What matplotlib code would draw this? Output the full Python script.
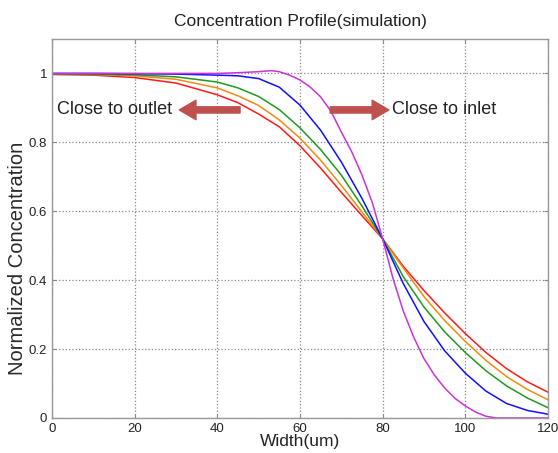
import numpy as np
import matplotlib
matplotlib.use("Agg")
import matplotlib.pyplot as plt

plt.rcParams['font.family'] = ['Liberation Sans', 'DejaVu Sans']

# Width positions (um) where the curves were read
width = [0, 10, 20, 30, 40, 45, 50, 55, 60, 65, 70, 75, 80,
         85, 90, 95, 100, 105, 110, 115, 120]

# Profiles, from "close to outlet" (red) to "close to inlet" (magenta)
red = [0.997, 0.995, 0.988, 0.972, 0.938, 0.915, 0.882, 0.845, 0.79, 0.725, 0.655, 0.587, 0.52,
       0.44, 0.37, 0.305, 0.245, 0.19, 0.143, 0.105, 0.075]
orange = [0.998, 0.997, 0.993, 0.983, 0.958, 0.935, 0.907, 0.865, 0.812, 0.748, 0.675, 0.598, 0.52,
          0.435, 0.352, 0.283, 0.222, 0.167, 0.12, 0.083, 0.053]
green = [0.999, 0.998, 0.996, 0.99, 0.975, 0.958, 0.933, 0.895, 0.842, 0.779, 0.705, 0.615, 0.52,
         0.41, 0.322, 0.25, 0.19, 0.137, 0.093, 0.058, 0.03]
blue = [1.0, 1.0, 0.999, 0.998, 0.995, 0.993, 0.985, 0.96, 0.908, 0.835, 0.743, 0.637, 0.52,
        0.39, 0.28, 0.195, 0.13, 0.078, 0.042, 0.022, 0.011]

# the steepest profile, read more densely
width_m = [0, 10, 20, 30, 40, 45, 50, 53, 55, 57.5, 60, 62.5, 65, 67.5, 70, 72.5, 75, 77.5, 80,
           82.5, 85, 87.5, 90, 92.5, 95, 97.5, 100, 102.5, 105, 107.5, 110, 120]
magenta = [1.0, 1.0, 1.0, 1.0, 1.0, 1.002, 1.005, 1.008, 1.005, 0.995, 0.981, 0.96, 0.932, 0.89,
           0.83, 0.773, 0.705, 0.625, 0.52, 0.405, 0.31, 0.235, 0.172, 0.125, 0.087, 0.057, 0.035,
           0.017, 0.005, 0.0, 0.0, 0.0]

xticks = [0, 20, 40, 60, 80, 100, 120]
yticks = [0, 0.2, 0.4, 0.6, 0.8, 1.0]
ytick_labels = ["0", "0.2", "0.4", "0.6", "0.8", "1"]

fig = plt.figure(figsize=(5.58, 4.53), dpi=100)
ax = fig.add_axes([0.0932, 0.0773, 0.8888, 0.8367])

ax.plot(width, red, color="#ff1a1a", lw=1.1)
ax.plot(width, orange, color="#f08c10", lw=1.1)
ax.plot(width, green, color="#1e9a1e", lw=1.1)
ax.plot(width, blue, color="#1010ff", lw=1.1)
ax.plot(width_m, magenta, color="#cc33d6", lw=1.1)

ax.set_xlim(0, 120)
ax.set_ylim(0, 1.1)
ax.set_xticks(xticks)
ax.set_yticks(yticks)
ax.set_yticklabels(ytick_labels)
ax.grid(True, linestyle=":", color="#888888", linewidth=0.9)
ax.tick_params(direction="in", length=3, colors="#888888", labelcolor="#222222",
               labelsize=9.5, top=True, right=True)
for s in ax.spines.values():
    s.set_color("#999999")
    s.set_linewidth(1.0)

ax.text(0.5, 1.046, "Concentration Profile(simulation)", transform=ax.transAxes,
        ha="center", va="center", fontsize=12.5, color="#222222")
ax.set_xlabel("Width(um)", fontsize=12.5, color="#222222", va="center")
ax.xaxis.set_label_coords(0.5, -0.061)
ax.set_ylabel("Normalized Concentration", fontsize=14.5, color="#2a2a2a", va="center")
ax.yaxis.set_label_coords(-0.07, 0.42)

# annotations
arrow_color = "#c0504d"
astyle = "simple,head_length=1.2,head_width=1.4,tail_width=0.45"
ax.annotate("", xy=(30.8, 0.894), xytext=(45.5, 0.894),
            arrowprops=dict(arrowstyle=astyle, color=arrow_color, shrinkA=0, shrinkB=0,
                            mutation_scale=10))
ax.annotate("", xy=(81.5, 0.894), xytext=(67.3, 0.894),
            arrowprops=dict(arrowstyle=astyle, color=arrow_color, shrinkA=0, shrinkB=0,
                            mutation_scale=10))
ax.text(1.3, 0.896, "Close to outlet", fontsize=13, color="#222222", va="center", ha="left")
ax.text(82.3, 0.896, "Close to inlet", fontsize=13, color="#222222", va="center", ha="left")

fig.savefig("out.png", dpi=100)
plt.close(fig)
